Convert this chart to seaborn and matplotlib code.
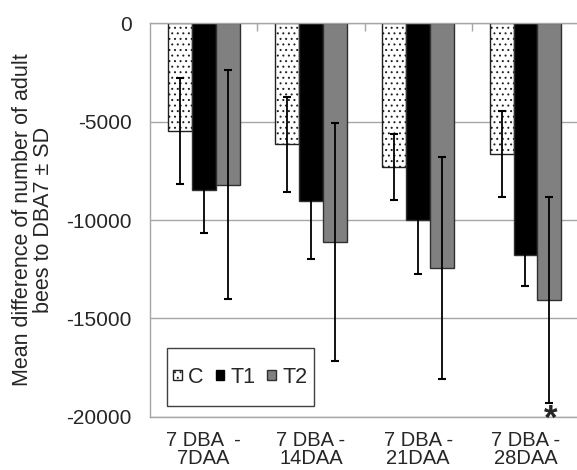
import matplotlib
matplotlib.use("Agg")
import matplotlib.pyplot as plt
import seaborn as sns
import pandas as pd
from matplotlib.patches import Patch, Rectangle

categories = ["7 DBA  -\n7DAA", "7 DBA -\n14DAA", "7 DBA -\n21DAA", "7 DBA -\n28DAA"]
treatments = ["C", "T1", "T2"]
mean_C = [-5460, -6155, -7300, -6645]
mean_T1 = [-8490, -9045, -10025, -11785]
mean_T2 = [-8200, -11125, -12425, -14070]
sd_C = [2700, 2420, 1670, 2190]
sd_T1 = [2160, 2920, 2740, 1570]
sd_T2 = [5830, 6040, 5640, 5230]
yticks = [0, -5000, -10000, -15000, -20000]

means = {"C": mean_C, "T1": mean_T1, "T2": mean_T2}
sds = {"C": sd_C, "T1": sd_T1, "T2": sd_T2}
rows = []
for t in treatments:
    for c, m in zip(categories, means[t]):
        rows.append({"Period": c, "Treatment": t, "Value": m})
df = pd.DataFrame(rows)

sns.set_style("white")
plt.rcParams["font.family"] = ["Liberation Sans", "DejaVu Sans"]
plt.rcParams["hatch.linewidth"] = 0.7

colors = {"C": "white", "T1": "black", "T2": "#808080"}
fig = plt.figure(figsize=(5.77, 4.70), dpi=100)
ax = fig.add_axes([0.26, 0.1134, 0.7437, 0.837])

sns.barplot(data=df, x="Period", y="Value", hue="Treatment", order=categories,
            hue_order=treatments, palette=colors, width=0.67, errorbar=None,
            edgecolor="#303030", linewidth=1.0, ax=ax, legend=False, zorder=2)

for cont, t in zip(ax.containers, treatments):
    xs, ys = [], []
    for p in cont.patches:
        if t == "C":
            p.set_hatch("...")
            p.set_edgecolor("#202020")
        xs.append(p.get_x() + p.get_width() / 2)
        ys.append(p.get_height() + p.get_y())
    ax.errorbar(xs, ys, yerr=sds[t], fmt="none", ecolor="black", elinewidth=1.3,
                capsize=3.2, capthick=1.5, zorder=3)

# significance mark
p4 = ax.containers[2].patches[3]
ax.text(p4.get_x() + p4.get_width() / 2 + 0.01, -20150, "*", ha="center", va="center",
        fontsize=25, fontweight="bold", zorder=4, clip_on=False)

ax.set_ylim(-20000, 0)
ax.set_xlim(-0.5, 3.5)
ax.set_yticks(yticks)
ax.set_yticklabels([str(v) for v in yticks], fontsize=15)
ax.yaxis.grid(True, color="#a6a6a6", linewidth=1.0, zorder=0)
ax.set_axisbelow(True)
ax.set_xlabel("")
ax.set_ylabel("Mean difference of number of adult\nbees to DBA7 \u00b1 SD", fontsize=15.5,
              labelpad=9, linespacing=1.02)
ax.tick_params(axis="y", length=5, color="#a6a6a6", width=1, pad=8)
ax.tick_params(axis="x", which="major", length=0, pad=10, labelsize=14.5)
for lab in ax.get_xticklabels():
    lab.set_linespacing(0.95)
ax.set_xticks([0.5, 1.5, 2.5], minor=True)
ax.tick_params(axis="x", which="minor", top=True, bottom=False, direction="in",
               length=6, color="#a6a6a6", width=1)

for s in ["top", "left", "bottom"]:
    ax.spines[s].set_color("#a6a6a6")
    ax.spines[s].set_linewidth(1)
ax.spines["right"].set_visible(False)

# legend frame
ax.add_patch(Rectangle((0.039, 0.026), 0.343, 0.149, transform=ax.transAxes,
                       facecolor="white", edgecolor="#404040", linewidth=1, zorder=5))
handles = [Patch(facecolor="white", edgecolor="#202020", hatch="...", label="C"),
           Patch(facecolor="black", edgecolor="black", label="T1"),
           Patch(facecolor="#808080", edgecolor="#303030", label="T2")]
leg = ax.legend(handles=handles, ncol=3, loc="center",
                bbox_to_anchor=(0.2105, 0.1004), fontsize=15.5, handlelength=0.4,
                handleheight=0.4, handletextpad=0.3, columnspacing=0.55,
                borderpad=0, frameon=False, borderaxespad=0)
leg.set_zorder(6)

fig.savefig("out.png", dpi=100)
